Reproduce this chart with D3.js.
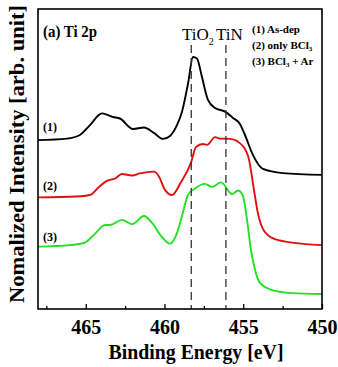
<!DOCTYPE html>
<html>
<head>
<meta charset="utf-8">
<script src="https://cdn.jsdelivr.net/npm/d3@7"></script>
<style>
  body { margin: 0; background: #fff; }
  svg { display: block; }
  svg text { font-family: "Liberation Serif", "Times New Roman", Times, serif; }
</style>
</head>
<body>
<svg id="chart"></svg>
<script>
// binding energy (eV) / intensity
const energy1 = [468.03, 466.19, 465.37, 464.73, 463.97, 463.27, 462.83, 462.0, 461.30, 460.67, 460.10, 459.65, 459.21, 458.89, 458.51, 458.19, 457.94, 457.62, 457.24, 456.79, 456.16, 455.65, 455.21, 454.89, 454.38, 453.75, 452.48, 450];
const asDep = [56.3, 56.8, 58.0, 61.3, 65.2, 64.0, 63.5, 60.0, 60.5, 58.7, 56.7, 57.7, 61.3, 65.7, 75.0, 84.0, 83.5, 77.3, 69.7, 67.0, 65.8, 63.7, 61.7, 58.0, 51.3, 46.7, 45.3, 44.7];

const energy2 = [468.03, 465.56, 464.73, 464.16, 463.65, 463.14, 462.70, 462.06, 461.56, 460.67, 460.35, 459.97, 459.52, 458.95, 458.32, 458.0, 457.56, 457.30, 456.79, 456.48, 455.84, 455.02, 454.63, 454.32, 454.06, 453.75, 453.17, 452.03, 450];
const onlyBCl3 = [37.2, 37.5, 38.0, 40.7, 42.7, 43.5, 45.0, 44.5, 45.2, 45.8, 44.2, 39.7, 38.0, 42.3, 48.7, 54.0, 55.0, 54.7, 57.3, 56.8, 56.7, 54.3, 49.7, 39.7, 31.7, 26.7, 23.7, 22.2, 21.3];

const energy3 = [468.03, 466.0, 465.11, 464.48, 463.78, 463.46, 462.70, 462.06, 461.30, 460.79, 460.16, 459.65, 459.21, 458.89, 458.51, 458.06, 457.43, 456.98, 456.41, 455.71, 455.33, 455.02, 454.76, 454.51, 454.25, 453.94, 453.17, 451.90, 450];
const bcl3Ar = [20.8, 21.3, 22.0, 24.7, 28.0, 28.0, 29.7, 28.3, 31.0, 28.7, 24.0, 21.8, 25.3, 31.0, 38.0, 40.2, 41.7, 40.7, 42.2, 38.3, 39.5, 37.7, 29.7, 19.7, 13.0, 8.7, 6.3, 5.3, 5.0];

const majorTicks = [465, 460, 455, 450];
const minorTicks = [467.5, 462.5, 457.5, 452.5];
const refLines = [458.3, 456.1];   // TiO2, TiN

const width = 338;
const height = 367;
const marge = { top: 9, right: 16, bottom: 58, left: 38 };
const w = width - marge.left - marge.right;
const h = height - marge.top - marge.bottom;

const svg = d3.select("#chart").attr("width", width).attr("height", height);
const g = svg.append("g").attr("transform", `translate(${marge.left},${marge.top})`);

const xScale = d3.scaleLinear().domain([468.03, 450]).range([0, w]);
const yScale = d3.scaleLinear().domain([0, 100]).range([h, 0]);

// curves
const series = [
  { e: energy1, v: asDep, color: "#000000", label: "(1)", ly: 131 },
  { e: energy2, v: onlyBCl3, color: "#e01010", label: "(2)", ly: 190 },
  { e: energy3, v: bcl3Ar, color: "#22e022", label: "(3)", ly: 241 }
];
const line = d3.line()
  .x(d => xScale(d[0]))
  .y(d => yScale(d[1]))
  .curve(d3.curveMonotoneX);

series.forEach(s => {
  const pts = s.e.map((e, i) => [e, s.v[i]]);
  g.append("path")
    .attr("d", line(pts))
    .attr("fill", "none")
    .attr("stroke", s.color)
    .attr("stroke-width", 1.9);
  svg.append("text")
    .attr("x", 43).attr("y", s.ly)
    .attr("font-size", 12).attr("font-weight", "bold")
    .text(s.label);
});

// dashed reference lines
g.selectAll(".ref").data(refLines).enter().append("line")
  .attr("x1", d => xScale(d)).attr("x2", d => xScale(d))
  .attr("y1", 36).attr("y2", h)
  .attr("stroke", "#333").attr("stroke-width", 1.3)
  .attr("stroke-dasharray", "8,5");

// x axis (ticks inward)
const xAxis = d3.axisBottom(xScale).tickValues(majorTicks).tickSize(-5).tickPadding(10).tickFormat(d3.format("d"));
const gax = g.append("g").attr("transform", `translate(0,${h})`).call(xAxis);
gax.select(".domain").remove();
gax.selectAll("line").attr("stroke", "#000").attr("stroke-width", 1.3);
gax.selectAll("text")
  .attr("font-family", null)
  .attr("font-size", 21).attr("font-weight", "bold").attr("fill", "#000")
  .attr("textLength", 30).attr("lengthAdjust", "spacingAndGlyphs");
g.append("g").attr("transform", `translate(0,${h})`)
  .call(d3.axisBottom(xScale).tickValues(minorTicks).tickSize(-3).tickFormat(""))
  .call(a => a.select(".domain").remove())
  .selectAll("line").attr("stroke", "#000").attr("stroke-width", 1.3);

// frame
g.append("rect")
  .attr("width", w).attr("height", h)
  .attr("fill", "none").attr("stroke", "#000").attr("stroke-width", 1.6);

// titles
svg.append("text")
  .attr("x", 196).attr("y", 359)
  .attr("text-anchor", "middle")
  .attr("font-size", 21).attr("font-weight", "bold")
  .attr("textLength", 175).attr("lengthAdjust", "spacingAndGlyphs")
  .text("Binding Energy [eV]");
svg.append("text")
  .attr("transform", `translate(24,154) rotate(-90)`)
  .attr("text-anchor", "middle")
  .attr("font-size", 22).attr("font-weight", "bold")
  .attr("textLength", 298).attr("lengthAdjust", "spacingAndGlyphs")
  .text("Nomalized Intensity [arb. unit]");

svg.append("text")
  .attr("x", 43).attr("y", 37)
  .attr("font-size", 16).attr("font-weight", "bold")
  .attr("textLength", 54).attr("lengthAdjust", "spacingAndGlyphs")
  .text("(a) Ti 2p");

const tio2 = svg.append("text").attr("x", 182).attr("y", 40).attr("font-size", 17);
tio2.append("tspan").text("TiO");
tio2.append("tspan").attr("font-size", 10).attr("dy", 5).text("2");
svg.append("text").attr("x", 216).attr("y", 40).attr("font-size", 17).text("TiN");

// legend
const legend = [["(1) As-dep", ""], ["(2) only BCl", ""], ["(3) BCl", " + Ar"]];
legend.forEach((t, i) => {
  const tx = svg.append("text")
    .attr("x", 252).attr("y", 33 + i * 16)
    .attr("font-size", 11).attr("font-weight", "bold");
  tx.append("tspan").text(t[0]);
  if (i > 0) {
    tx.append("tspan").attr("font-size", 7).attr("dy", 2).text("3");
    tx.append("tspan").attr("dy", -2).text(t[1]);
  }
});
</script>
</body>
</html>
